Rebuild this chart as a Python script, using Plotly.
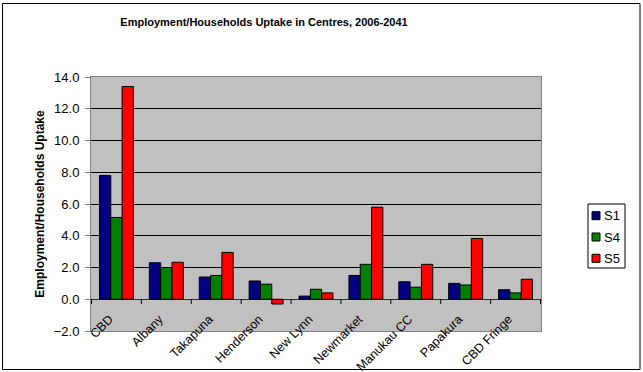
import plotly.graph_objects as go

categories = ["CBD", "Albany", "Takapuna", "Henderson", "New Lynn", "Newmarket",
              "Manukau CC", "Papakura", "CBD Fringe"]
s1 = [7.8, 2.3, 1.4, 1.15, 0.2, 1.5, 1.1, 1.0, 0.6]
s4 = [5.15, 2.0, 1.5, 0.95, 0.63, 2.2, 0.76, 0.9, 0.4]
s5 = [13.4, 2.33, 2.95, -0.3, 0.4, 5.8, 2.2, 3.83, 1.26]
series_names = ["S1", "S4", "S5"]
series_values = [s1, s4, s5]
series_colors = ["#000080", "#008000", "#FF0000"]

FONT = "Liberation Sans, Arial, sans-serif"

fig = go.Figure()
for name, vals, col in zip(series_names, series_values, series_colors):
    fig.add_trace(go.Bar(x=categories, y=vals, name=name, showlegend=False,
                         marker=dict(color=col, line=dict(color="black", width=1))))

W, H = 643, 372
L, R, T, B = 91, 102, 77, 41
pw, ph = W - L - R, H - T - B

def px(x):
    return (x - L) / pw

def py(y):
    return (H - B - y) / ph

shapes = [dict(type="rect", xref="paper", yref="paper",
               x0=px(2.5), x1=px(640), y0=py(369.5), y1=py(3.5),
               line=dict(color="black", width=1), layer="below"),
          # legend box
          dict(type="rect", xref="paper", yref="paper",
               x0=px(588), x1=px(625), y0=py(268), y1=py(204),
               line=dict(color="black", width=1), fillcolor="white", layer="above")]
# category-boundary tick marks on the zero line
for i in range(len(categories) + 1):
    shapes.append(dict(type="line", xref="x", yref="y", x0=i - 0.5, x1=i - 0.5,
                       y0=0, y1=-0.3,
                       line=dict(color="black", width=1), layer="above"))
annotations = []
for i, (name, col) in enumerate(zip(series_names, series_colors)):
    cy = 215.7 + i * 21.3
    shapes.append(dict(type="rect", xref="paper", yref="paper",
                       x0=px(592), x1=px(600), y0=py(cy + 4), y1=py(cy - 4),
                       line=dict(color="black", width=1), fillcolor=col))
    annotations.append(dict(text=name, xref="paper", yref="paper", x=px(602), y=py(cy),
                            xanchor="left", yanchor="middle", showarrow=False,
                            font=dict(size=13, family=FONT)))

fig.update_layout(
    width=W, height=H,
    margin=dict(l=L, r=R, t=T, b=B, autoexpand=False),
    paper_bgcolor="white", plot_bgcolor="#C0C0C0",
    barmode="group", bargap=0.32, bargroupgap=0,
    font=dict(family=FONT, size=11, color="black"),
    title=dict(text="<b>Employment/Households Uptake in Centres, 2006-2041</b>",
               x=px(264), xref="paper", xanchor="center", y=1 - 22 / H, yanchor="middle",
               font=dict(size=11, family=FONT)),
    showlegend=False,
    shapes=shapes,
    annotations=annotations,
)
fig.update_xaxes(tickangle=-45, showline=True, linecolor="#808080", mirror=True,
                 ticks="", tickfont=dict(size=12.5), automargin=False,
                 ticklabelstandoff=-25, ticklabelshift=-7)
fig.update_yaxes(range=[-2, 14], dtick=2, tickformat=".1f", showgrid=True,
                 gridcolor="black", gridwidth=1, zeroline=True, zerolinecolor="#303030",
                 zerolinewidth=1, showline=True, linecolor="#808080", mirror=True,
                 ticks="outside", ticklen=5, tickcolor="#808080", automargin=False,
                 ticklabelstandoff=3,
                 title=dict(text="<b>Employment/Households Uptake</b>", font=dict(size=12), standoff=6),
                 tickfont=dict(size=13))

fig.write_html("out.html", post_script="document.body.style.margin='0';",
               config={"displayModeBar": False})
